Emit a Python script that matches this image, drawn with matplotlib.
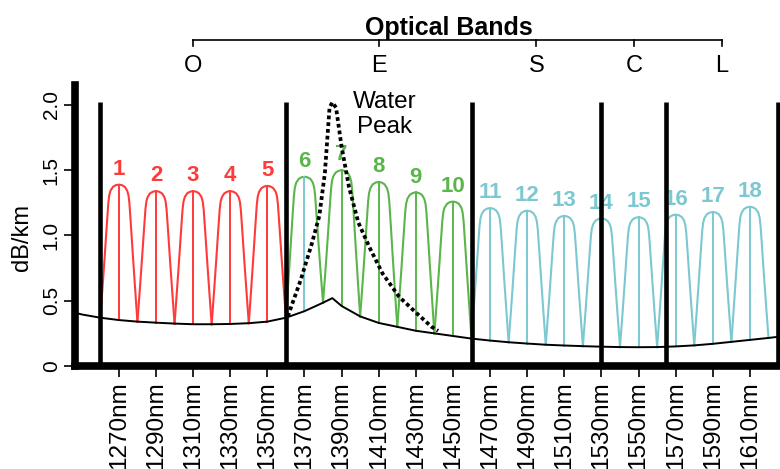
import numpy as np
import matplotlib
matplotlib.use('Agg')
from matplotlib import pyplot as plt

plt.rcParams['font.family'] = ['Liberation Sans', 'DejaVu Sans']

# CWDM channels (centre wavelength, peak of channel curve in dB/km)
channel_nm = [1270, 1290, 1310, 1330, 1350, 1370, 1390, 1410, 1430,
              1450, 1470, 1490, 1510, 1530, 1550, 1570, 1590, 1610]
channel_peak = [1.39, 1.34, 1.34, 1.34, 1.38, 1.45, 1.50, 1.41, 1.33,
                1.26, 1.21, 1.19, 1.15, 1.13, 1.14, 1.16, 1.18, 1.22]

# shape of one channel curve: offset from centre (nm) and fraction of height
prof_dx = [-10, -8.8, -7.6, -6.5, -5.7, -5.2, -4.5, -3.2, -1.6, 0,
           1.6, 3.2, 4.5, 5.2, 5.7, 6.5, 7.6, 8.8, 10]
prof_fr = [0, 0.23, 0.47, 0.7, 0.86, 0.92, 0.955, 0.983, 0.996, 1,
           0.996, 0.983, 0.955, 0.92, 0.86, 0.7, 0.47, 0.23, 0]

# fibre attenuation curve
atten_nm = [1246, 1250, 1260, 1270, 1280, 1290, 1300, 1310, 1320, 1330,
            1340, 1350, 1360, 1370, 1380, 1385, 1390, 1400, 1410, 1420,
            1430, 1440, 1450, 1460, 1470, 1480, 1490, 1500, 1510, 1520,
            1530, 1540, 1550, 1560, 1570, 1580, 1590, 1600, 1610, 1620, 1626]
atten_db = [0.41, 0.395, 0.37, 0.352, 0.34, 0.332, 0.325, 0.32, 0.32, 0.322,
            0.328, 0.34, 0.37, 0.42, 0.485, 0.52, 0.46, 0.38, 0.33, 0.30,
            0.27, 0.25, 0.23, 0.21, 0.195, 0.182, 0.172, 0.163, 0.157, 0.152,
            0.148, 0.145, 0.144, 0.145, 0.15, 0.158, 0.17, 0.185, 0.2, 0.215, 0.225]

# water peak (dotted)
water_nm = [1361, 1368, 1374, 1378, 1381, 1383.5, 1385, 1387, 1390,
            1394, 1399, 1405, 1412, 1421, 1430, 1438.5, 1442]
water_db = [0.38, 0.66, 0.94, 1.15, 1.48, 1.98, 2.02, 1.98, 1.68,
            1.37, 1.10, 0.91, 0.71, 0.53, 0.41, 0.30, 0.27]

band_names = ['O', 'E', 'S', 'C', 'L']
band_edges = [1260, 1360, 1460, 1530, 1565, 1625]

red = '#ff3a3a'
green = '#5ab54b'
teal = '#7cc8d1'

fig = plt.figure(figsize=(7.8, 4.69), dpi=100)
ax = fig.add_axes([74.7 / 780, 1 - 366 / 469, 1 - 74.7 / 780, 281 / 469])

dx = np.array(prof_dx)
fr = np.array(prof_fr)
for i in range(len(channel_nm)):
    c = channel_nm[i]
    pk = channel_peak[i]
    if i < 5:
        col = red
    elif i < 10:
        col = green
    else:
        col = teal
    b0 = atten_db[atten_nm.index(c - 10)]
    b1 = atten_db[atten_nm.index(c + 10)]
    base = b0 + (b1 - b0) * (dx + 10) / 20
    ax.plot(c + dx, base + (pk - base) * fr, color=col, lw=1.5, zorder=2)
    # centre line (channel 6 has a teal one in the original)
    lc = teal if i == 5 else col
    ax.plot([c, c], [atten_db[atten_nm.index(c)], pk], color=lc, lw=1.4, zorder=2)
    ax.text(c, pk + 0.075, str(i + 1), color=col, fontsize=16, fontweight='bold',
            ha='center', va='baseline', zorder=4)

ax.plot(atten_nm, atten_db, color='black', lw=1.4, zorder=3)
ax.plot(water_nm, water_db, color='black', lw=2.7, linestyle=(0, (1, 0.8)), zorder=4)

ax.vlines(band_edges, 0, 2.02, color='black', lw=3.3, zorder=5, clip_on=False)

# optical band header
centers = [(band_edges[k] + band_edges[k + 1]) / 2 for k in range(len(band_names))]
ax.plot([centers[0], centers[-1]], [2.498, 2.498], color='black', lw=1.2, clip_on=False)
for k in range(len(band_names)):
    ax.plot([centers[k], centers[k]], [2.498, 2.45], color='black', lw=1.2, clip_on=False)
    ax.text(centers[k], 2.253, band_names[k], fontsize=17, ha='center', va='baseline')
ax.text(1448, 2.536, 'Optical Bands', fontsize=18, fontweight='bold', ha='center', va='baseline')

ax.text(1413, 1.977, 'Water', fontsize=17.5, ha='center', va='baseline')
ax.text(1413, 1.785, 'Peak', fontsize=17.5, ha='center', va='baseline')

ax.set_xlim(1246.2, 1626.2)
ax.set_ylim(0, 2.153)
ax.set_xticks(channel_nm)
ax.set_xticklabels([str(c) + 'nm' for c in channel_nm], rotation=90, fontsize=17.5)
ax.set_yticks([0, 0.5, 1.0, 1.5, 2.0])
ax.set_yticklabels(['0', '0.5', '1.0', '1.5', '2.0'], rotation=90, fontsize=15, va='center')
ax.tick_params(axis='both', direction='out', length=8, width=1.2)
ax.tick_params(axis='x', pad=3)
ax.tick_params(axis='y', pad=2)

ax.spines['top'].set_visible(False)
ax.spines['right'].set_visible(False)
ax.spines['left'].set_linewidth(5.5)
ax.spines['bottom'].set_linewidth(5.5)

ax.text(-0.075, 0.457, 'dB/km', transform=ax.transAxes, rotation=90, fontsize=17,
        ha='center', va='center')

fig.savefig('out.png', dpi=100)
